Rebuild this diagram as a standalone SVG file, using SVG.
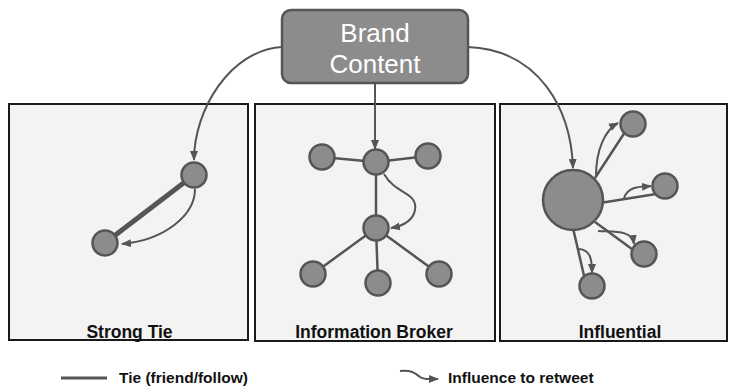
<svg xmlns="http://www.w3.org/2000/svg" width="729" height="388" viewBox="0 0 729 388">
<style>
.panel{fill:#f3f3f3;stroke:#1a1a1a;stroke-width:2}
.node{fill:#8c8c8c;stroke:#555;stroke-width:2.5}
.tie{stroke:#555;stroke-width:2.5;fill:none}
.inf{stroke:#555;stroke-width:2;fill:none;marker-end:url(#ah)}
.lbl{font-family:"Liberation Sans",Arial,sans-serif;font-weight:bold;font-size:17.5px;fill:#111;text-anchor:middle}
.leg{font-family:"Liberation Sans",Arial,sans-serif;font-weight:bold;font-size:15.5px;fill:#111}
.brand{font-family:"Liberation Sans",Arial,sans-serif;font-size:26px;fill:#fff;text-anchor:middle}
</style>
<defs>
<marker id="ah" markerUnits="userSpaceOnUse" markerWidth="10" markerHeight="10" viewBox="0 0 10 10" refX="9" refY="5" orient="auto">
<path d="M0,1 L10,5 L0,9 Z" fill="#555"/>
</marker>
</defs>
<rect width="729" height="388" fill="#fff"/>
<g id="panel-strong-tie">
<rect class="panel" x="9" y="104" width="239" height="236"/>
<text class="lbl" x="129.5" y="338">Strong Tie</text>
</g>
<g id="panel-information-broker">
<rect class="panel" x="255" y="104" width="240" height="237"/>
<text class="lbl" x="374" y="338">Information Broker</text>
</g>
<g id="panel-influential">
<rect class="panel" x="500" y="104" width="227" height="237"/>
<text class="lbl" x="620" y="338">Influential</text>
</g>
<g id="connectors">
<path class="inf" d="M282,47 C230,50 194,110 194,160"/>
<path class="inf" d="M375,83 L375,149"/>
<path class="inf" d="M468,47 C540,50 571,110 573,168"/>
<line x1="194" y1="175" x2="105" y2="243" stroke="#555" stroke-width="5"/>
<path class="inf" d="M195,189 C195,215 165,240 122,244"/>
<line class="tie" x1="376" y1="162" x2="322" y2="157"/>
<line class="tie" x1="376" y1="162" x2="428" y2="156"/>
<line class="tie" x1="376" y1="162" x2="376" y2="228"/>
<line class="tie" x1="376" y1="228" x2="313" y2="274"/>
<line class="tie" x1="376" y1="228" x2="378" y2="283"/>
<line class="tie" x1="376" y1="228" x2="439" y2="274"/>
<path class="inf" d="M384,174 C396,195 418,192 415,210 C413,221 402,226 391,228"/>
<line class="tie" x1="595" y1="178" x2="627" y2="129"/>
<line class="tie" x1="600" y1="203" x2="656" y2="194"/>
<line class="tie" x1="595" y1="222" x2="636" y2="252"/>
<line class="tie" x1="573" y1="228" x2="585" y2="280"/>
<path class="inf" d="M596,176 C596,150 605,130 618,123"/>
<path class="inf" d="M624,198 C628,186 640,187 651,186"/>
<path class="inf" d="M598,231 C615,232 632,230 634,244"/>
<path class="inf" d="M579,249 C590,250 592,258 592,273"/>
</g>
<g id="brand-content">
<rect x="282" y="10" width="186" height="73" rx="9" fill="#8c8c8c" stroke="#555" stroke-width="2.5"/>
<text class="brand" x="375" y="42">Brand</text>
<text class="brand" x="375" y="73">Content</text>
</g>
<g id="st-a"><circle class="node" cx="194" cy="175" r="12.5"/></g>
<g id="st-b"><circle class="node" cx="105" cy="243" r="12.5"/></g>
<g id="ib-top"><circle class="node" cx="376" cy="162" r="12.5"/></g>
<g id="ib-left"><circle class="node" cx="322" cy="157" r="12.5"/></g>
<g id="ib-right"><circle class="node" cx="428" cy="156" r="12.5"/></g>
<g id="ib-mid"><circle class="node" cx="376" cy="228" r="12.5"/></g>
<g id="ib-bl"><circle class="node" cx="313" cy="274" r="12.5"/></g>
<g id="ib-bc"><circle class="node" cx="378" cy="283" r="12.5"/></g>
<g id="ib-br"><circle class="node" cx="439" cy="274" r="12.5"/></g>
<g id="inf-hub"><circle class="node" cx="573" cy="200" r="30" stroke-width="3"/></g>
<g id="inf-1"><circle class="node" cx="633" cy="124" r="12.5"/></g>
<g id="inf-2"><circle class="node" cx="665" cy="186" r="12.5"/></g>
<g id="inf-3"><circle class="node" cx="644" cy="254" r="12.5"/></g>
<g id="inf-4"><circle class="node" cx="592" cy="286" r="12.5"/></g>
<g id="legend">
<line x1="61" y1="378" x2="107" y2="378" stroke="#555" stroke-width="3"/>
<text class="leg" x="119" y="383">Tie (friend/follow)</text>
<path class="inf" d="M400,371 C412,370 415,373 420,377 C424,380 428,379 438,379"/>
<text class="leg" x="448" y="383">Influence to retweet</text>
</g>
</svg>
